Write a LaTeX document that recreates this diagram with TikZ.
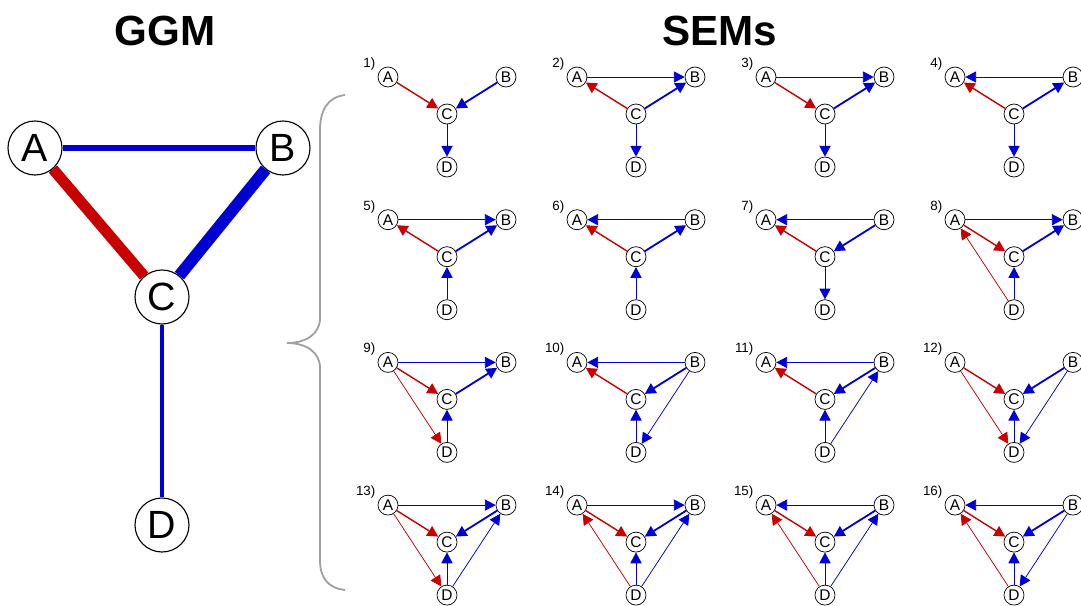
\documentclass[tikz,border=0pt]{standalone}
\usepackage{fontspec}
\setmainfont{Liberation Sans}
\setsansfont{Liberation Sans}
\usetikzlibrary{arrows.meta}
\definecolor{cred}{HTML}{C80000}
\definecolor{cblue}{HTML}{0000D2}
\definecolor{cgrey}{HTML}{A0A0A0}
\tikzset{
  every picture/.style={font=\sffamily},
  ggmnode/.style={circle, draw, line width=0.8pt, fill=white, minimum size=1.35cm, inner sep=0pt, font=\sffamily\fontsize{28}{30}\selectfont},
  semnode/.style={circle, draw, line width=0.5pt, fill=white, minimum size=0.5cm, inner sep=0pt, font=\sffamily\fontsize{11}{12}\selectfont},
  title/.style={font=\sffamily\bfseries\fontsize{30}{32}\selectfont},
  num/.style={font=\sffamily\fontsize{9.5}{10}\selectfont, anchor=south east, inner sep=1pt},
  tip/.style={-{Triangle[length=2.7mm, width=2.8mm]}},
  % SEM edges, one style per pair
  eab/.style={tip, draw=cblue, fill=cblue, line width=0.6pt},
  eac/.style={tip, draw=cred, fill=cred, line width=1pt},
  ebc/.style={tip, draw=cblue, fill=cblue, line width=1.3pt},
  ecd/.style={tip, draw=cblue, fill=cblue, line width=0.7pt},
  ead/.style={tip, draw=cred, fill=cred, line width=0.5pt},
  ebd/.style={tip, draw=cblue, fill=cblue, line width=0.5pt},
}

\begin{document}
\begin{tikzpicture}[x=0.025cm, y=-0.025cm]
  \path[use as bounding box, clip] (0,0) rectangle (1081,606);

  % GGM
  \node[title] (ggmtitle) at (165,31) {GGM};
  \node[ggmnode] (GA) at (35,148) {A};
  \node[ggmnode] (GB) at (283,148) {B};
  \node[ggmnode] (GC) at (162,297) {C};
  \node[ggmnode] (GD) at (162,525) {D};
  \draw[cblue, line width=4.3pt] (GA) -- (GB);
  \draw[cred, line width=7.8pt] (GA) -- (GC);
  \draw[cblue, line width=8.5pt] (GB) -- (GC);
  \draw[cblue, line width=2.2pt] (GC) -- (GD);

  % brace
  \draw[cgrey, line width=1.3pt] (345,95) .. controls (328,97) and (320,110) .. (320,130)
    -- (320,318) .. controls (320,334) and (306,343) .. (287,343)
    .. controls (306,343) and (320,352) .. (320,368)
    -- (320,560) .. controls (320,578) and (328,588) .. (345,590);

  % SEMs
  \node[title] (semtitle) at (720,31) {SEMs};
  \foreach \n/\c/\r/\e in {
    1/0/0/{A/C/eac,B/C/ebc,C/D/ecd},
    2/1/0/{A/B/eab,C/A/eac,C/B/ebc,C/D/ecd},
    3/2/0/{A/B/eab,A/C/eac,C/B/ebc,C/D/ecd},
    4/3/0/{B/A/eab,C/A/eac,C/B/ebc,C/D/ecd},
    5/0/1/{A/B/eab,C/A/eac,C/B/ebc,D/C/ecd},
    6/1/1/{B/A/eab,C/A/eac,C/B/ebc,D/C/ecd},
    7/2/1/{B/A/eab,C/A/eac,B/C/ebc,C/D/ecd},
    8/3/1/{A/B/eab,A/C/eac,C/B/ebc,D/C/ecd,D/A/ead},
    9/0/2/{A/B/eab,A/C/eac,C/B/ebc,D/C/ecd,A/D/ead},
    10/1/2/{B/A/eab,C/A/eac,B/C/ebc,D/C/ecd,B/D/ebd},
    11/2/2/{B/A/eab,C/A/eac,B/C/ebc,D/C/ecd,D/B/ebd},
    12/3/2/{A/C/eac,B/C/ebc,D/C/ecd,A/D/ead,B/D/ebd},
    13/0/3/{A/B/eab,A/C/eac,B/C/ebc,D/C/ecd,A/D/ead,D/B/ebd},
    14/1/3/{A/B/eab,A/C/eac,B/C/ebc,D/C/ecd,D/A/ead,D/B/ebd},
    15/2/3/{B/A/eab,A/C/eac,B/C/ebc,D/C/ecd,D/A/ead,D/B/ebd},
    16/3/3/{B/A/eab,A/C/eac,B/C/ebc,D/C/ecd,D/A/ead,B/D/ebd}} {
    \pgfmathsetmacro{\ax}{388+189*\c}
    \pgfmathsetmacro{\ay}{77+142.7*\r}
    \node[semnode] (A\n) at (\ax,\ay) {A};
    \node[semnode] (B\n) at (\ax+118,\ay) {B};
    \node[semnode] (C\n) at (\ax+59,\ay+37) {C};
    \node[semnode] (D\n) at (\ax+59,\ay+90) {D};
    \node[num] (L\n) at (\ax-11,\ay-5) {\n)};
    \foreach \u/\v/\s in \e {
      \draw[\s] (\u\n) -- (\v\n);
    }
  }
\end{tikzpicture}
\end{document}
